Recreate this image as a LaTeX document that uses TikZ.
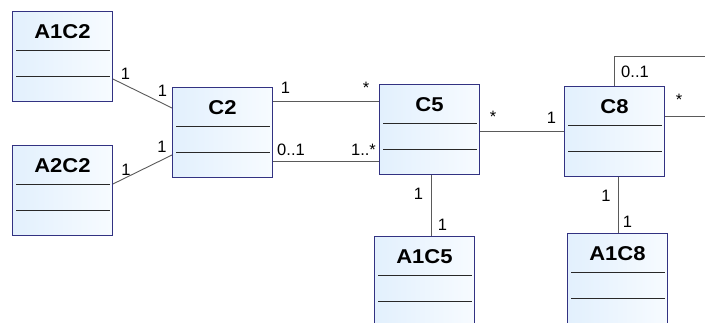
\documentclass[tikz,border=0pt]{standalone}
\usepackage{fontspec}
\setmainfont{Liberation Sans}
\newfontfamily\clsfont{Liberation Sans}[FakeStretch=1.1]
\usetikzlibrary{calc}
\definecolor{boxborder}{RGB}{50,50,130}
\definecolor{boxA}{RGB}{226,240,253}
\definecolor{boxB}{RGB}{247,251,255}
\definecolor{conn}{RGB}{90,90,90}
\definecolor{sepc}{RGB}{40,40,40}
\tikzset{
  cls/.style={draw=boxborder, line width=0.9pt, minimum width=100pt, minimum height=90pt,
    anchor=north west, inner sep=0pt, left color=boxA, right color=boxB},
  clstitle/.style={anchor=base, inner sep=0pt, font=\clsfont\bfseries\fontsize{20}{20}\selectfont},
  sepline/.style={draw=sepc, line width=0.8pt},
  conline/.style={draw=conn, line width=0.9pt},
  mult/.style={anchor=base, inner sep=0pt, font=\fontsize{16.5}{16.5}\selectfont},
}
\newcommand{\classbox}[4]{%
  \node[cls] (#1) at (#2,#3) {};
  \node[clstitle] (#1-t) at ($(#1.north)+(0,27.5)$) {#4};
  \draw[sepline] ($(#1.north west)+(4,39)$) -- ($(#1.north east)+(-3,39)$);
  \draw[sepline] ($(#1.north west)+(4,65)$) -- ($(#1.north east)+(-3,65)$);
}
\begin{document}
\begin{tikzpicture}[x=1pt,y=-1pt]
\useasboundingbox (0,0) rectangle (705,322);
\clip (0,0) rectangle (705,322);
\fill[white] (0,0) rectangle (705,322);

\classbox{A1C2}{12}{11}{A1C2}
\classbox{A2C2}{12}{145}{A2C2}
\classbox{C2}{172}{87}{C2}
\classbox{C5}{379}{84}{C5}
\classbox{C8}{564}{86}{C8}
\classbox{A1C5}{374}{236}{A1C5}
\classbox{A1C8}{567}{233}{A1C8}

% connectors
\draw[conline] ($(A1C2.north east)+(0,68)$) -- ($(C2.north west)+(0,21)$);
\draw[conline] ($(A2C2.north east)+(0,39)$) -- ($(C2.north west)+(0,68)$);
\draw[conline] ($(C2.north east)+(0,14)$) -- ($(C5.north west)+(0,17)$);
\draw[conline] ($(C2.north east)+(0,74)$) -- ($(C5.north west)+(0,77)$);
\draw[conline] ($(C5.north east)+(0,47)$) -- ($(C8.north west)+(0,45)$);
\draw[conline] ($(C5.south west)+(52,0)$) -- ($(A1C5.north west)+(57,0)$);
\draw[conline] ($(C8.south west)+(54,0)$) -- ($(A1C8.north west)+(51,0)$);
\coordinate (loopcorner) at (740,56);
\draw[conline] ($(C8.north west)+(50,0)$) |- (loopcorner) |- ($(C8.north east)+(0,30)$);

% multiplicities
\node[mult] (m1) at (125.5,79) {1};
\node[mult] (m2) at (162.5,96) {1};
\node[mult] (m3) at (162,152) {1};
\node[mult] (m4) at (126,175) {1};
\node[mult] (m5) at (285.5,93) {1};
\node[mult] (m6) at (366,93.5) {*};
\node[mult] (m7) at (291,155) {0..1};
\node[mult] (m8) at (363.5,155) {1..*};
\node[mult] (m9) at (493,122) {*};
\node[mult] (m10) at (551.5,123) {1};
\node[mult] (m11) at (635,77) {0..1};
\node[mult] (m12) at (679,105.5) {*};
\node[mult] (m13) at (418.5,199) {1};
\node[mult] (m14) at (442.5,230) {1};
\node[mult] (m15) at (606,201) {1};
\node[mult] (m16) at (627.5,227) {1};
\end{tikzpicture}
\end{document}
